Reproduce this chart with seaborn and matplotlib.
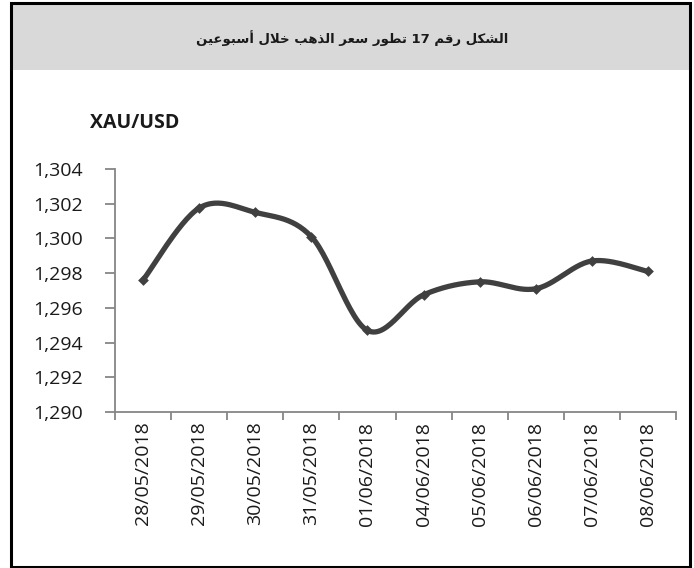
import numpy as np
import pandas as pd
import matplotlib
matplotlib.use("Agg")
import matplotlib.pyplot as plt
import matplotlib.ticker as mticker
from matplotlib.patches import Rectangle
import seaborn as sns

# data
dates = ["28/05/2018", "29/05/2018", "30/05/2018", "31/05/2018", "01/06/2018",
         "04/06/2018", "05/06/2018", "06/06/2018", "07/06/2018", "08/06/2018"]
prices = [1297.6, 1301.75, 1301.5, 1300.1, 1294.7,
          1296.75, 1297.5, 1297.1, 1298.7, 1298.1]
y_ticks = [1290, 1292, 1294, 1296, 1298, 1300, 1302, 1304]
title_ar = "الشكل رقم 17 تطور سعر الذهب خلال أسبوعين"
unit_label = "XAU/USD"

# --- tiny arabic shaper (matplotlib has no RTL / joining support) ---
# forms: isolated, final, initial, medial
FORMS = {
    "ا": ("\uFE8D", "\uFE8E"), "أ": ("\uFE83", "\uFE84"),
    "ب": ("\uFE8F", "\uFE90", "\uFE91", "\uFE92"),
    "ت": ("\uFE95", "\uFE96", "\uFE97", "\uFE98"),
    "خ": ("\uFEA5", "\uFEA6", "\uFEA7", "\uFEA8"),
    "ذ": ("\uFEAB", "\uFEAC"), "ر": ("\uFEAD", "\uFEAE"),
    "س": ("\uFEB1", "\uFEB2", "\uFEB3", "\uFEB4"),
    "ش": ("\uFEB5", "\uFEB6", "\uFEB7", "\uFEB8"),
    "ط": ("\uFEC1", "\uFEC2", "\uFEC3", "\uFEC4"),
    "ع": ("\uFEC9", "\uFECA", "\uFECB", "\uFECC"),
    "ق": ("\uFED5", "\uFED6", "\uFED7", "\uFED8"),
    "ك": ("\uFED9", "\uFEDA", "\uFEDB", "\uFEDC"),
    "ل": ("\uFEDD", "\uFEDE", "\uFEDF", "\uFEE0"),
    "م": ("\uFEE1", "\uFEE2", "\uFEE3", "\uFEE4"),
    "ن": ("\uFEE5", "\uFEE6", "\uFEE7", "\uFEE8"),
    "ه": ("\uFEE9", "\uFEEA", "\uFEEB", "\uFEEC"),
    "و": ("\uFEED", "\uFEEE"),
    "ي": ("\uFEF1", "\uFEF2", "\uFEF3", "\uFEF4"),
}
LAM_ALEF = {"ا": ("\uFEFB", "\uFEFC"), "أ": ("\uFEF7", "\uFEF8")}


def shape_word(w):
    chars = list(w)
    out = []
    i = 0
    while i < len(chars):
        c = chars[i]
        prev_joins = i > 0 and chars[i - 1] in FORMS and len(FORMS[chars[i - 1]]) == 4
        if c == "ل" and i + 1 < len(chars) and chars[i + 1] in LAM_ALEF:
            out.append(LAM_ALEF[chars[i + 1]][1 if prev_joins else 0])
            i += 2
            continue
        f = FORMS[c]
        next_exists = i + 1 < len(chars) and chars[i + 1] in FORMS
        can_left = len(f) == 4 and next_exists
        if prev_joins and can_left:
            out.append(f[3])
        elif prev_joins:
            out.append(f[1])
        elif can_left:
            out.append(f[2])
        else:
            out.append(f[0])
        i += 1
    return "".join(reversed(out))


def rtl(text):
    words = []
    for w in text.split(" "):
        words.append(w if w.isdigit() else shape_word(w))
    return " ".join(reversed(words))


# --- smoothed line like the spreadsheet's "smooth line" option ---
def smooth(xv, yv, n=30):
    px = np.concatenate([[xv[0]], xv, [xv[-1]]]).astype(float)
    py = np.concatenate([[yv[0]], yv, [yv[-1]]]).astype(float)
    t = np.linspace(0, 1, n)
    sx, sy = [], []
    for k in range(1, len(px) - 2):
        p0 = np.array([px[k], py[k]])
        p3 = np.array([px[k + 1], py[k + 1]])
        c1 = p0 + (p3 - np.array([px[k - 1], py[k - 1]])) / 6
        c2 = p3 - (np.array([px[k + 2], py[k + 2]]) - p0) / 6
        b = ((1 - t) ** 3)[:, None] * p0 + (3 * (1 - t) ** 2 * t)[:, None] * c1 \
            + (3 * (1 - t) * t ** 2)[:, None] * c2 + (t ** 3)[:, None] * p3
        sx.extend(b[:, 0])
        sy.extend(b[:, 1])
    return np.array(sx), np.array(sy)


df = pd.DataFrame({"pos": np.arange(len(dates)), "date": dates, "price": prices})
cx, cy = smooth(df["pos"].values, df["price"].values)
curve = pd.DataFrame({"pos": cx, "price": cy})

sns.set_theme(style="white")
plt.rcParams["font.family"] = ["Open Sans", "DejaVu Sans"]

line_col = "#404040"
axis_col = "#868686"
text_col = "#1a1a1a"

fig = plt.figure(figsize=(6.94, 5.68), dpi=100)
ax = fig.add_axes([115 / 694, 1 - 412 / 568, (676 - 115) / 694, (412 - 169) / 568])

sns.lineplot(data=curve, x="pos", y="price", sort=False, estimator=None,
             color=line_col, linewidth=3.8, ax=ax)
sns.scatterplot(data=df, x="pos", y="price", marker="D", s=30, color=line_col,
                edgecolor=line_col, linewidth=0, ax=ax, zorder=3)

ax.set_xlim(-0.5, len(dates) - 0.5)
ax.set_ylim(y_ticks[0], y_ticks[-1])
ax.set_yticks(y_ticks)
ax.yaxis.set_major_formatter(mticker.FuncFormatter(lambda v, p: f"{v:,.0f}"))
ax.set_xticks(np.arange(-0.5, len(dates), 1.0))
ax.set_xticklabels([])
ax.set_xticks(np.arange(len(dates)), minor=True)
ax.set_xticklabels(dates, minor=True, rotation=90)
ax.tick_params(axis="x", which="major", direction="out", length=6, width=1.3,
               color=axis_col, bottom=True)
ax.tick_params(axis="x", which="minor", length=0, pad=7, labelsize=14,
               labelcolor=text_col)
ax.tick_params(axis="y", direction="out", length=7, width=1.3, color=axis_col,
               left=True, labelsize=14, labelcolor=text_col, pad=16)
ax.set_xlabel("")
ax.set_ylabel("")
for side in ["top", "right"]:
    ax.spines[side].set_visible(False)
for side in ["left", "bottom"]:
    ax.spines[side].set_color(axis_col)
    ax.spines[side].set_linewidth(1.3)

# header band and outer frame
fig.patches.append(Rectangle((11 / 694, 1 - 70 / 568), 679 / 694, 67 / 568,
                             transform=fig.transFigure, facecolor="#d9d9d9",
                             edgecolor="none", zorder=0))
fig.patches.append(Rectangle((11 / 694, 1 - 567 / 568), 679 / 694, 564 / 568,
                             transform=fig.transFigure, facecolor="none",
                             edgecolor="black", linewidth=2.2, zorder=5))

fig.text(352 / 694, 1 - 38 / 568, rtl(title_ar), ha="center", va="center",
         fontsize=9.5, fontweight="bold", color=text_col, family=["DejaVu Sans"])
fig.text(90 / 694, 1 - 123 / 568, unit_label, ha="left", va="center",
         fontsize=14, fontweight="bold", color=text_col)

fig.savefig("out.png", dpi=100)
